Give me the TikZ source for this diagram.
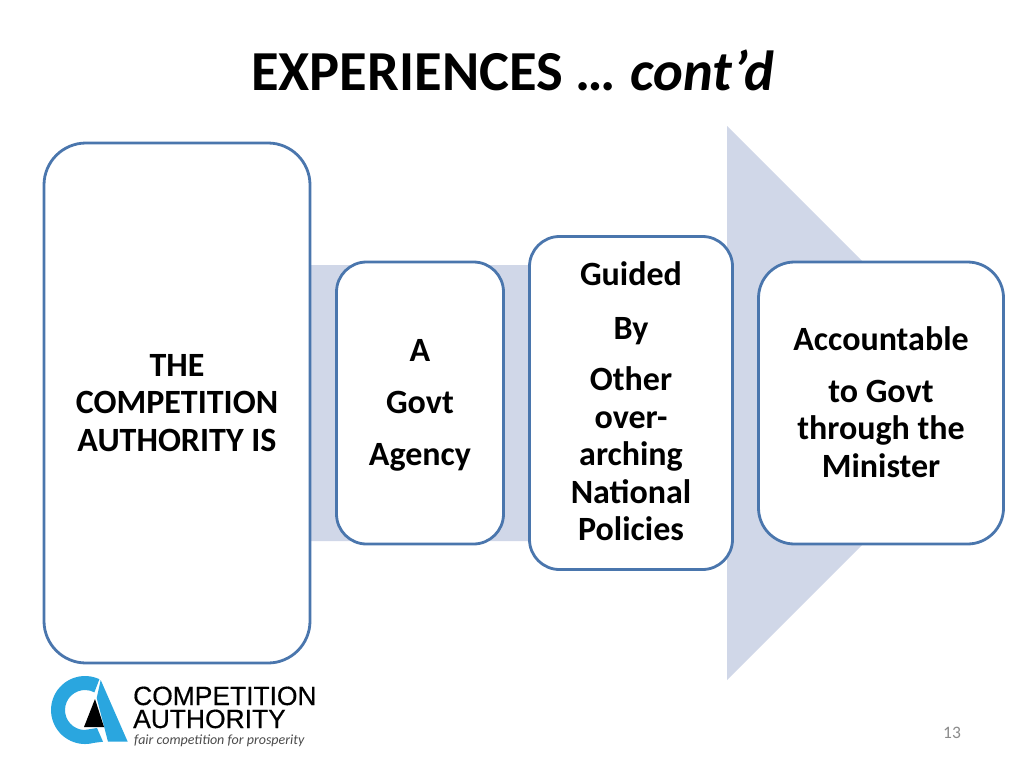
\documentclass[tikz,border=0pt]{standalone}
\usepackage{fontspec}
\setmainfont{Carlito}
\newfontfamily\logofont[FakeBold=0.5]{Liberation Sans}
\definecolor{boxline}{HTML}{4A76AD}
\definecolor{arrowfill}{HTML}{D0D7E8}
\definecolor{logoblue}{HTML}{2AA6DF}
\definecolor{numgrey}{HTML}{8B8B8B}
\tikzset{
  card/.style={draw=boxline,line width=2.8pt,fill=white,align=center,inner sep=0pt,
    font=\fontsize{34}{37.5}\selectfont\bfseries\color{black}},
  logotext/.style={font=\logofont\fontsize{26.4}{27}\selectfont,anchor=base west,inner sep=0pt},
}
\begin{document}
\begin{tikzpicture}[x=1pt,y=-1pt]
\useasboundingbox[fill=white] (0,0) rectangle (1024,768);
% arrow
\fill[arrowfill] (310,265) -- (727,265) -- (727,126) -- (1004,403) -- (727,680) -- (727,541) -- (310,541) -- cycle;
% title
\node[font=\fontsize{56.5}{60}\selectfont\bfseries,anchor=base west,inner sep=0pt] (title) at (251,90) {EXPERIENCES …\hspace{2pt} \textit{cont’d}};
% cards
\node[card,rounded corners=42pt,minimum width=266pt,minimum height=520pt] (auth) at (177,403)
  {THE\\COMPETITION\\AUTHORITY IS};
\node[card,rounded corners=30pt,minimum width=167pt,minimum height=282pt] (agency) at (420,403)
  {\rule{0pt}{26pt}A\\[14.5pt]Govt\\[14.5pt]Agency};
\node[card,rounded corners=30pt,minimum width=203pt,minimum height=333pt] (policy) at (631,403)
  {Guided\\[16.5pt]By\\[13.5pt]Other\\over-\\arching\\National\\Policies\vspace{3pt}};
\node[card,rounded corners=36pt,minimum width=245pt,minimum height=282pt] (minister) at (881,403)
  {Accountable\\[14.5pt]to Govt\\through the\\Minister\vspace{2pt}};
% logo
\fill[logoblue] (99.4,679.2) arc[start angle=-65,end angle=-285,radius=34] -- (103,741.7) -- (97,728) -- (84.3,730) arc[start angle=-268,end angle=-62,radius=20] -- cycle;
\fill[logoblue] (100.7,680) -- (127.7,741.7) -- (108,741.7) -- (96.7,698) -- cycle;
\fill[black] (95,699) -- (104,727) -- (84,727) -- cycle;
\node[logotext] (logoa) at (133,705) {COMPETITION};
\node[logotext] (logob) at (133,728) {AUTHORITY};
\node[font=\fontsize{14}{15}\selectfont\itshape,text=black!70,anchor=base west,inner sep=0pt] (logoc) at (134,744) {fair competition for prosperity};
\node[font=\fontsize{17.5}{18}\selectfont,text=numgrey,inner sep=0pt] (num) at (952,733) {13};
\end{tikzpicture}
\end{document}
